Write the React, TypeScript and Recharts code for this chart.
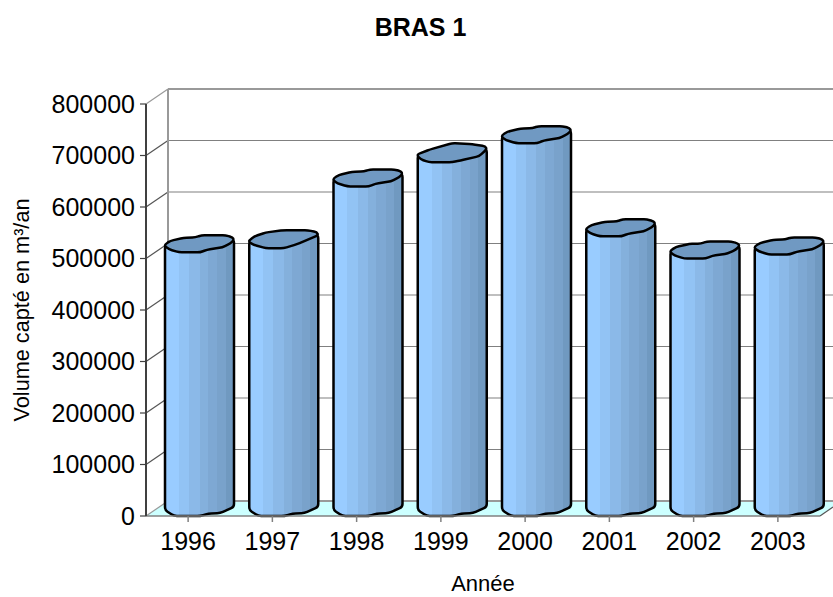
import React from "react";
import { BarChart, Bar, CartesianGrid, XAxis, YAxis } from "recharts";

const years = ["1996", "1997", "1998", "1999", "2000", "2001", "2002", "2003"];
const volumes = [512000, 520000, 640000, 687000, 724000, 543000, 500000, 508000];
const yTicks = [0, 100000, 200000, 300000, 400000, 500000, 600000, 700000, 800000];

const data = years.map((year, i) => ({ year, volume: volumes[i] }));

const W = 833;
const H = 597;
const TOP = 104;
const BOTTOM = 516;
const RIGHT = 820;
const DX = 22;
const DY = 15;
const FONT = "'Liberation Sans', Arial, sans-serif";

const stripes = [
  [0, "#8fc0f2"], [0.03, "#99ccff"], [0.2, "#99ccff"], [0.2, "#92c3f4"], [0.35, "#92c3f4"],
  [0.35, "#8bb9e8"], [0.5, "#8bb9e8"], [0.5, "#84b0dc"], [0.62, "#84b0dc"], [0.62, "#7ea8d3"],
  [0.76, "#7ea8d3"], [0.76, "#79a2cb"], [0.88, "#79a2cb"], [0.88, "#7099c0"], [1, "#7099c0"],
] as const;

// cap outlines: [fraction of width, px above the front of the cap]
const capRound: number[][] = [[0, 8], [0.08, 11.5], [0.27, 14.5], [0.44, 15], [0.53, 17], [0.88, 17], [0.98, 15], [1, 12.5], [0.95, 9], [0.83, 5], [0.61, 2.7], [0.51, 0], [0.2, 0], [0.06, 3], [0, 6]];
const capTilted: number[][] = [[0, 8], [0.08, 12], [0.24, 15.7], [0.5, 18], [0.85, 18], [0.98, 16], [1, 13], [0.69, 4], [0.5, 0], [0.24, 0], [0.07, 3.3], [0, 6]];
const capSloped: number[][] = [[0, 8], [0.18, 12.8], [0.5, 19], [0.79, 18], [0.98, 16], [1, 13], [0.89, 6], [0.62, 1.7], [0.5, 0], [0.16, 0], [0.04, 3], [0, 6]];
const capByBar = [capRound, capTilted, capRound, capSloped, capRound, capRound, capRound, capRound];
const bottomEdge = [[0, 6], [0.13, 0], [0.51, 0], [0.63, 2.3], [0.8, 3], [1, 9]];

function WallLine(props: any) {
  const { x1, y1, index } = props;
  const isTop = y1 <= TOP + 1;
  const isFloor = y1 >= BOTTOM - 1;
  return (
    <g key={index}>
      {isFloor && (
        <polygon
          points={`${x1},${y1} ${x1 + DX},${y1 - DY} ${W},${y1 - DY} ${W},${y1 - 9} ${RIGHT},${y1}`}
          fill="#ccffff"
        />
      )}
      {isTop && (
        <line x1={x1 + DX} y1={y1 - DY} x2={x1 + DX} y2={BOTTOM - DY} stroke="#999999" strokeWidth={2} />
      )}
      <line
        x1={x1 + DX}
        y1={y1 - DY}
        x2={W}
        y2={y1 - DY}
        stroke={isTop || isFloor ? "#999999" : "#808080"}
        strokeWidth={isTop || isFloor ? 2 : 1.2}
      />
      <line x1={x1} y1={y1} x2={x1 + DX} y2={y1 - DY} stroke={isTop || isFloor ? "#999999" : "#555555"} strokeWidth={1.2} />
      {isFloor && <line x1={RIGHT} y1={y1} x2={W} y2={y1 - 9} stroke="#555555" strokeWidth={1.2} />}
    </g>
  );
}

// closed outline, corners rounded by a few px
function softPath(pts: number[][], radius: number) {
  const n = pts.length;
  const toward = (a: number[], b: number[]) => {
    const t = Math.min(0.5, radius / Math.hypot(b[0] - a[0], b[1] - a[1]));
    return [a[0] + (b[0] - a[0]) * t, a[1] + (b[1] - a[1]) * t];
  };
  let d = "";
  for (let i = 0; i < n; i++) {
    const cur = pts[i];
    const a = toward(cur, pts[(i + n - 1) % n]);
    const b = toward(cur, pts[(i + 1) % n]);
    d += `${i === 0 ? "M" : "L"} ${a[0]} ${a[1]} Q ${cur[0]} ${cur[1]} ${b[0]} ${b[1]} `;
  }
  return d + "Z";
}

function Cylinder(props: any) {
  const { x, y, width, height, index } = props;
  const l = x + DX / 2;
  const b = y + height;
  const cap = capByBar[index];
  const topPts = cap.map(([f, up]) => [l + f * width, y - up]);
  const rightUp = cap.find((p) => p[0] === 1)![1];
  const bodyPts = [
    [l, y - 7],
    ...bottomEdge.map(([f, up]) => [l + f * width, b - up]),
    [l + width, y - rightUp],
  ];
  return (
    <g>
      <path d={softPath(bodyPts, 3)} fill="url(#cylinderBody)" stroke="#000000" strokeWidth={2.5} strokeLinejoin="round" />
      <path d={softPath(topPts, 3)} fill="#7099c2" stroke="#000000" strokeWidth={2.5} strokeLinejoin="round" />
    </g>
  );
}

function VolumeTitle() {
  return (
    <text x={29} y={310} transform="rotate(-90 29 310)" textAnchor="middle" fontSize={21.7} fill="#000000">
      Volume capté en m³/an
    </text>
  );
}

export default function App() {
  return (
    <div style={{ position: "absolute", left: 0, top: 0, width: W, height: H, background: "#ffffff" }}>
      <div
        style={{
          position: "absolute",
          left: 0,
          width: 841,
          top: 13,
          textAlign: "center",
          fontFamily: FONT,
          fontWeight: "bold",
          fontSize: 25,
          lineHeight: "28px",
          color: "#000000",
        }}
      >
        BRAS 1
      </div>
      <BarChart
        width={W}
        height={H}
        data={data}
        barSize={69}
        margin={{ top: TOP, right: W - RIGHT, bottom: 1, left: 46 }}
        style={{ fontFamily: FONT }}
      >
        <defs>
          <linearGradient id="cylinderBody" x1="0" y1="0" x2="1" y2="0">
            {stripes.map(([offset, color], i) => (
              <stop key={i} offset={offset} stopColor={color} />
            ))}
          </linearGradient>
        </defs>
        <CartesianGrid vertical={false} horizontal={(p: any) => <WallLine {...p} />} />
        <XAxis
          dataKey="year"
          height={80}
          interval={0}
          tick={{ fill: "#000000", fontSize: 25 }}
          tickLine={{ stroke: "#808080", strokeWidth: 1.5 }}
          axisLine={{ stroke: "#808080", strokeWidth: 1.5 }}
          tickSize={6}
          tickMargin={10}
          label={{ value: "Année", position: "insideBottom", offset: 5, fill: "#000000", fontSize: 22 }}
        />
        <YAxis
          width={100}
          domain={[0, 800000]}
          ticks={yTicks}
          interval={0}
          tick={{ fill: "#000000", fontSize: 25 }}
          tickLine={{ stroke: "#404040", strokeWidth: 1.2 }}
          axisLine={{ stroke: "#404040", strokeWidth: 2 }}
          tickSize={6}
          tickMargin={5}
          label={() => <VolumeTitle />}
        />
        <Bar dataKey="volume" shape={(p: any) => <Cylinder {...p} />} isAnimationActive={false} />
      </BarChart>
    </div>
  );
}
